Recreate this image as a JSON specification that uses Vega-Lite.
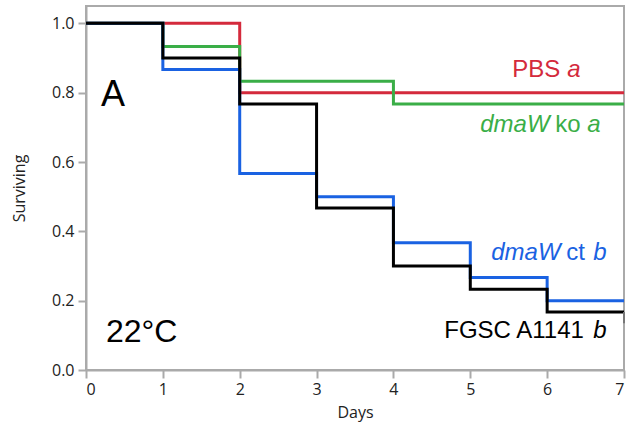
{
  "$schema": "https://vega.github.io/schema/vega-lite/v6.json",
  "width": 538,
  "height": 364,
  "autosize": {"type": "none"},
  "padding": {"left": 86, "top": 6, "right": 7, "bottom": 59},
  "background": "white",
  "config": {
    "view": {"stroke": "#aaaaaa", "strokeWidth": 2},
    "axis": {
      "domainColor": "#aaaaaa", "domainWidth": 2, "tickColor": "#aaaaaa", "tickWidth": 2,
      "labelFont": "Open Sans", "labelFontSize": 16, "labelColor": "#222222",
      "titleFont": "Open Sans", "titleFontSize": 16, "titleFontWeight": "normal", "titleColor": "#222222",
      "grid": false, "labelOverlap": false
    }
  },
  "datasets": {
    "curves": [
      {"series": "PBS", "day": 0, "surv": 1}, {"series": "PBS", "day": 1, "surv": 1}, {"series": "PBS", "day": 2, "surv": 0.8}, {"series": "PBS", "day": 3, "surv": 0.8}, {"series": "PBS", "day": 4, "surv": 0.8}, {"series": "PBS", "day": 5, "surv": 0.8}, {"series": "PBS", "day": 6, "surv": 0.8}, {"series": "PBS", "day": 7, "surv": 0.8},
      {"series": "ko", "day": 0, "surv": 1}, {"series": "ko", "day": 1, "surv": 0.933}, {"series": "ko", "day": 2, "surv": 0.833}, {"series": "ko", "day": 3, "surv": 0.833}, {"series": "ko", "day": 4, "surv": 0.767}, {"series": "ko", "day": 5, "surv": 0.767}, {"series": "ko", "day": 6, "surv": 0.767}, {"series": "ko", "day": 7, "surv": 0.767},
      {"series": "ct", "day": 0, "surv": 1}, {"series": "ct", "day": 1, "surv": 0.867}, {"series": "ct", "day": 2, "surv": 0.567}, {"series": "ct", "day": 3, "surv": 0.5}, {"series": "ct", "day": 4, "surv": 0.367}, {"series": "ct", "day": 5, "surv": 0.267}, {"series": "ct", "day": 6, "surv": 0.2}, {"series": "ct", "day": 7, "surv": 0.2},
      {"series": "FGSC", "day": 0, "surv": 1}, {"series": "FGSC", "day": 1, "surv": 0.9}, {"series": "FGSC", "day": 2, "surv": 0.767}, {"series": "FGSC", "day": 3, "surv": 0.467}, {"series": "FGSC", "day": 4, "surv": 0.3}, {"series": "FGSC", "day": 5, "surv": 0.233}, {"series": "FGSC", "day": 6, "surv": 0.167}, {"series": "FGSC", "day": 7, "surv": 0.167}
    ],
    "censor": [{"series": "FGSC", "day": 7, "top": 0.167, "bottom": 0.135}],
    "labelsNormal": [
      {"series": "PBS", "text": "PBS", "x": 5.547, "y": 0.844},
      {"series": "ko", "text": "ko", "x": 6.107, "y": 0.686},
      {"series": "ct", "text": "ct", "x": 6.25, "y": 0.317},
      {"series": "FGSC", "text": "FGSC A1141", "x": 4.661, "y": 0.092}
    ],
    "labelsItalic": [
      {"series": "PBS", "text": "a", "x": 6.263, "y": 0.844},
      {"series": "ko", "text": "dmaW", "x": 5.13, "y": 0.686},
      {"series": "ko", "text": "a", "x": 6.523, "y": 0.686},
      {"series": "ct", "text": "dmaW", "x": 5.273, "y": 0.317},
      {"series": "ct", "text": "b", "x": 6.6, "y": 0.317},
      {"series": "FGSC", "text": "b", "x": 6.6, "y": 0.092}
    ],
    "panelLetter": [{"text": "A", "x": 0.195, "y": 0.761}],
    "panelTemp": [{"text": "22°C", "x": 0.26, "y": 0.081}]
  },
  "layer": [
    {
      "data": {"name": "curves"},
      "mark": {"type": "line", "interpolate": "step-after", "strokeWidth": 3, "strokeJoin": "miter", "strokeCap": "butt"},
      "encoding": {
        "x": {"field": "day", "type": "quantitative", "scale": {"domain": [0, 7], "nice": false},
          "axis": {"title": "Days", "values": [0, 0.5, 1, 1.5, 2, 2.5, 3, 3.5, 4, 4.5, 5, 5.5, 6, 6.5, 7],
            "labelExpr": "datum.value % 1 ? '' : format(datum.value, 'd')",
            "tickSize": {"condition": {"test": "datum.value % 1 != 0", "value": 4}, "value": 8},
            "labelPadding": 3, "titlePadding": 7}},
        "y": {"field": "surv", "type": "quantitative", "scale": {"domain": [0, 1.05], "nice": false},
          "axis": {"title": "Surviving", "values": [0, 0.1, 0.2, 0.3, 0.4, 0.5, 0.6, 0.7, 0.8, 0.9, 1.0],
            "labelExpr": "round(datum.value*10) % 2 ? '' : format(datum.value, '.1f')",
            "tickSize": {"condition": {"test": "round(datum.value*10) % 2 == 1", "value": 4}, "value": 8},
            "labelPadding": 4, "titlePadding": 24}},
        "color": {"field": "series", "type": "nominal",
          "scale": {"domain": ["PBS", "ko", "ct", "FGSC"], "range": ["#d42a3c", "#3aae47", "#1a62e2", "#000000"]},
          "legend": null},
        "order": {"field": "series", "sort": "ascending"}
      }
    },
    {
      "data": {"name": "censor"},
      "mark": {"type": "rule", "strokeWidth": 2, "color": "#777777"},
      "encoding": {
        "x": {"field": "day", "type": "quantitative"},
        "y": {"field": "top", "type": "quantitative"},
        "y2": {"field": "bottom"}
      }
    },
    {
      "data": {"name": "labelsNormal"},
      "mark": {"type": "text", "font": "Liberation Sans", "fontSize": 24, "align": "left", "baseline": "alphabetic"},
      "encoding": {
        "x": {"field": "x", "type": "quantitative"},
        "y": {"field": "y", "type": "quantitative"},
        "text": {"field": "text"},
        "color": {"field": "series", "type": "nominal", "legend": null}
      }
    },
    {
      "data": {"name": "labelsItalic"},
      "mark": {"type": "text", "font": "Liberation Sans", "fontSize": 24, "fontStyle": "italic", "align": "left", "baseline": "alphabetic"},
      "encoding": {
        "x": {"field": "x", "type": "quantitative"},
        "y": {"field": "y", "type": "quantitative"},
        "text": {"field": "text"},
        "color": {"field": "series", "type": "nominal", "legend": null}
      }
    },
    {
      "data": {"name": "panelLetter"},
      "mark": {"type": "text", "font": "Liberation Sans", "fontSize": 36, "align": "left", "baseline": "alphabetic", "color": "#000000"},
      "encoding": {
        "x": {"field": "x", "type": "quantitative"},
        "y": {"field": "y", "type": "quantitative"},
        "text": {"field": "text"}
      }
    },
    {
      "data": {"name": "panelTemp"},
      "mark": {"type": "text", "font": "Liberation Sans", "fontSize": 32, "align": "left", "baseline": "alphabetic", "color": "#000000"},
      "encoding": {
        "x": {"field": "x", "type": "quantitative"},
        "y": {"field": "y", "type": "quantitative"},
        "text": {"field": "text"}
      }
    }
  ]
}
